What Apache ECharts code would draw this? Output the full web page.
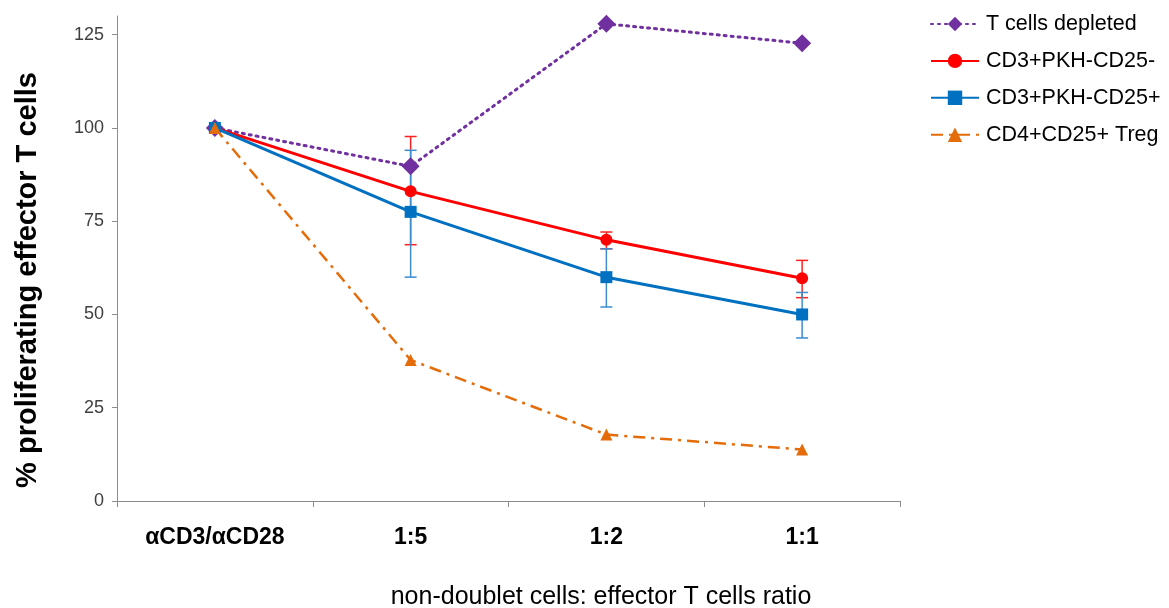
<!DOCTYPE html>
<html>
<head>
<meta charset="utf-8">
<script src="https://cdn.jsdelivr.net/npm/echarts@6/dist/echarts.min.js"></script>
<style>html,body{margin:0;padding:0;background:#fff}#c{width:1169px;height:608px}</style>
</head>
<body>
<div id="c"></div>
<script>
var categories = ['\u03b1CD3/\u03b1CD28', '1:5', '1:2', '1:1'];
var yTicks = [0, 25, 50, 75, 100, 125];
var seriesNames = ['T cells depleted', 'CD3+PKH-CD25-', 'CD3+PKH-CD25+', 'CD4+CD25+ Treg'];
var tDepleted = [100, 89.7, 127.9, 122.7];
var cd25neg = [100, 83, 70, 59.7];
var cd25pos = [100, 77.5, 60, 50];
var treg = [100, 37.8, 17.8, 13.8];
// error bars: [categoryIndex, low, high]
var cd25negErr = [[1, 68.7, 97.7], [2, 67.6, 72.1], [3, 54.5, 64.5]];
var cd25posErr = [[1, 60, 94], [2, 52, 67.6], [3, 43.7, 55.9]];

var chart = echarts.init(document.getElementById('c'));
function errSeries(data, color) {
  return {
    type: 'custom',
    data: data,
    encode: {x: 0, y: [1, 2]},
    z: 3,
    silent: true,
    renderItem: function (params, api) {
      var x = api.value(0);
      var lo = api.coord([x, api.value(1)]);
      var hi = api.coord([x, api.value(2)]);
      var w = 6;
      var st = {stroke: color, lineWidth: 1.5};
      return {
        type: 'group',
        children: [
          {type: 'line', shape: {x1: lo[0], y1: lo[1], x2: hi[0], y2: hi[1]}, style: st},
          {type: 'line', shape: {x1: lo[0] - w, y1: lo[1], x2: lo[0] + w, y2: lo[1]}, style: st},
          {type: 'line', shape: {x1: hi[0] - w, y1: hi[1], x2: hi[0] + w, y2: hi[1]}, style: st}
        ]
      };
    }
  };
}
var font = 'Arial, "Liberation Sans", sans-serif';
chart.setOption({
  animation: false,
  textStyle: {fontFamily: font},
  grid: {left: 117, right: 269, top: 16, bottom: 107},
  legend: {
    data: seriesNames,
    orient: 'vertical',
    left: 925,
    top: 8,
    itemWidth: 48,
    itemHeight: 18,
    itemGap: 14.9,
    textStyle: {fontSize: 21.5, color: '#000', fontFamily: font, padding: [0, 0, 0, 2]}
  },
  xAxis: {
    type: 'category',
    data: categories,
    boundaryGap: true,
    axisLine: {lineStyle: {color: '#8c8c8c', width: 1}},
    axisTick: {show: true, length: 6, lineStyle: {color: '#8c8c8c'}},
    axisLabel: {fontSize: 23, fontWeight: 'bold', color: '#000', margin: 25, fontFamily: font}
  },
  yAxis: {
    type: 'value',
    min: 0,
    max: 130,
    interval: 25,
    axisLine: {show: true, lineStyle: {color: '#8c8c8c', width: 1}},
    axisTick: {show: true, length: 5, lineStyle: {color: '#8c8c8c'}, customValues: yTicks},
    axisLabel: {fontSize: 18, color: '#404040', margin: 13, customValues: yTicks, fontFamily: font},
    splitLine: {show: false}
  },
  graphic: [{
    type: 'text',
    x: 28, y: 280,
    rotation: Math.PI / 2,
    style: {
      text: '% proliferating effector T cells',
      fontSize: 29, fontWeight: 'bold', fill: '#000',
      fontFamily: font,
      textAlign: 'center', textVerticalAlign: 'middle'
    }
  }, {
    type: 'text',
    x: 601, y: 597,
    style: {
      text: 'non-doublet cells: effector T cells ratio',
      fontSize: 25, fill: '#000',
      fontFamily: font,
      textAlign: 'center', textVerticalAlign: 'middle'
    }
  }],
  series: [
    {
      name: seriesNames[0], type: 'line', data: tDepleted,
      symbol: 'diamond', symbolSize: 18, z: 4,
      itemStyle: {color: '#7030A0'},
      lineStyle: {color: '#7030A0', width: 3, type: [2, 5], cap: 'round'}
    },
    {
      name: seriesNames[1], type: 'line', data: cd25neg,
      symbol: 'circle', symbolSize: 12, z: 5,
      itemStyle: {color: '#FF0000'},
      lineStyle: {color: '#FF0000', width: 3}
    },
    {
      name: seriesNames[2], type: 'line', data: cd25pos,
      symbol: 'rect', symbolSize: 12, z: 5,
      itemStyle: {color: '#0070C0'},
      lineStyle: {color: '#0070C0', width: 3}
    },
    {
      name: seriesNames[3], type: 'line', data: treg,
      symbol: 'triangle', symbolSize: 12, z: 6,
      itemStyle: {color: '#E46C0A'},
      lineStyle: {color: '#E46C0A', width: 2.5, type: [12, 6, 3, 6]}
    },
    errSeries(cd25negErr, '#FF2020'),
    errSeries(cd25posErr, '#3C8DD0')
  ]
});
</script>
</body>
</html>
